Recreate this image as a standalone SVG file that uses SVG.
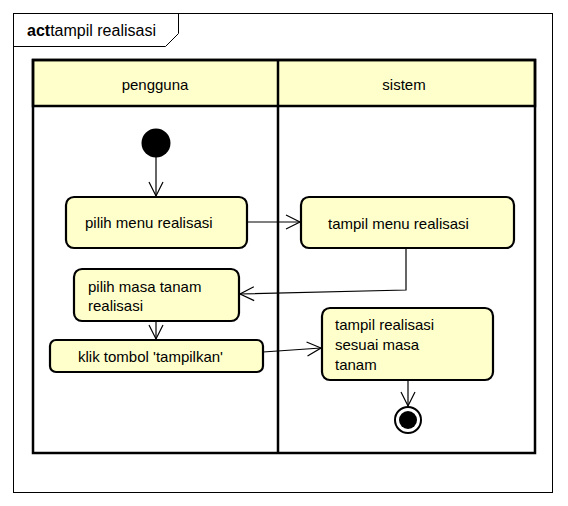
<svg xmlns="http://www.w3.org/2000/svg" width="568" height="506" viewBox="0 0 568 506">
<style>
text{font-family:"Liberation Sans",Arial,sans-serif;font-size:15px;fill:#000}
.act{fill:#FFFFCC;stroke:#000;stroke-width:2.2}
.lane{fill:none;stroke:#000;stroke-width:2.5}
.hdr{fill:#FFFFCC;stroke:#000;stroke-width:2.5}
.con{fill:none;stroke:#000;stroke-width:1.2;marker-end:url(#ah)}
</style>
<defs>
<marker id="ah" viewBox="0 0 20 20" refX="18" refY="10" markerWidth="20" markerHeight="20" markerUnits="userSpaceOnUse" orient="auto">
<path d="M4,3 L18,10 L4,17" fill="none" stroke="#000" stroke-width="1.2"/>
</marker>
</defs>
<rect x="0" y="0" width="568" height="506" fill="#fff"/>
<g id="frame">
<rect x="13.5" y="13.5" width="539" height="479" fill="#fff" stroke="#000" stroke-width="1"/>
<path d="M13.5,46.5 L165.5,46.5 L178.5,33.5 L178.5,13.5" fill="none" stroke="#000" stroke-width="1"/>
<text x="27" y="36" style="font-size:16px"><tspan font-weight="bold">act</tspan>tampil realisasi</text>
</g>
<g id="lanes">
<rect class="hdr" x="33" y="60" width="502" height="46"/>
<rect class="lane" x="33" y="60" width="502" height="393"/>
<line x1="278" y1="60" x2="278" y2="453" stroke="#000" stroke-width="2.5"/>
<text x="155" y="90" text-anchor="middle">pengguna</text>
<text x="404" y="90" text-anchor="middle">sistem</text>
</g>
<g id="start"><circle cx="156" cy="143" r="14.5" fill="#000"/></g>
<g id="n1"><rect class="act" x="66" y="197" width="181" height="51" rx="8"/><text x="85" y="228">pilih menu realisasi</text></g>
<g id="n2"><rect class="act" x="301" y="197" width="213" height="51" rx="8"/><text x="328" y="229">tampil menu realisasi</text></g>
<g id="n3"><rect class="act" x="74" y="269" width="165" height="52" rx="8"/><text x="88" y="292">pilih masa tanam</text><text x="88" y="311">realisasi</text></g>
<g id="n4"><rect class="act" x="50" y="340" width="213" height="32" rx="6"/><text x="78" y="362">klik tombol 'tampilkan'</text></g>
<g id="n5"><rect class="act" x="322" y="308" width="171" height="72" rx="8"/><text x="335" y="330">tampil realisasi</text><text x="335" y="350">sesuai masa</text><text x="335" y="370">tanam</text></g>
<g id="end"><circle cx="408" cy="420" r="13" fill="#fff" stroke="#000" stroke-width="2"/><circle cx="408" cy="420" r="9" fill="#000"/></g>
<g id="connectors">
<path class="con" d="M156,157 L156,196"/>
<path class="con" d="M247,222 L300,222"/>
<path class="con" d="M406,248 L406,290 L240,294"/>
<path class="con" d="M156,321 L156,339"/>
<path class="con" d="M263,352 L321,348"/>
<path class="con" d="M408,380 L408,406"/>
</g>
</svg>
